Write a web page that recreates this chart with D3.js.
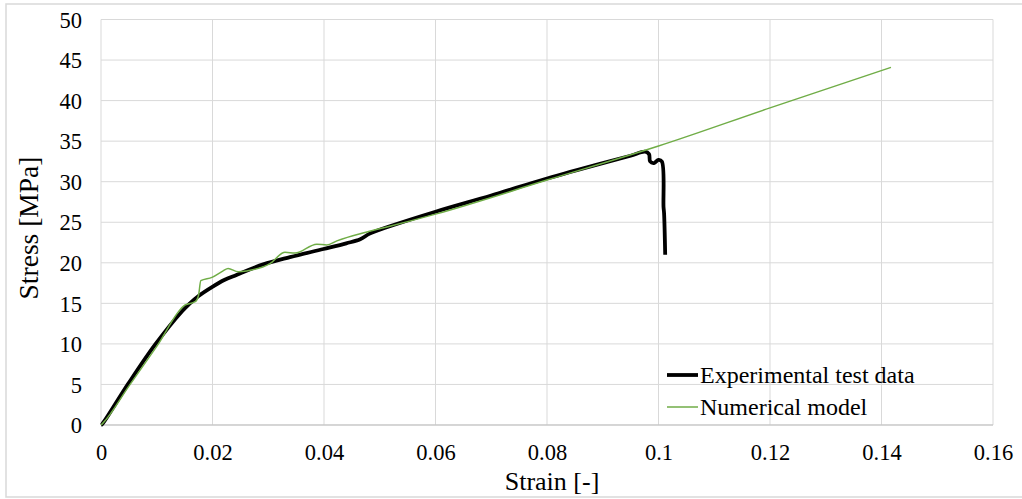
<!DOCTYPE html>
<html>
<head>
<meta charset="utf-8">
<script src="https://cdn.jsdelivr.net/npm/d3@7"></script>
<style>
  html, body { margin: 0; padding: 0; background: #fff; }
  svg { display: block; }
  svg text { font-family: "Liberation Serif", "Times New Roman", Times, "DejaVu Serif", serif; }
</style>
</head>
<body>
<div id="chart"></div>
<script>
// Experimental test data: strain [-], stress [MPa]
var expStrain = [0, 0.0002, 0.0049, 0.0097, 0.0145, 0.0158, 0.0175, 0.0199, 0.0222, 0.0243,
  0.0291, 0.0339, 0.0399, 0.0440, 0.0465, 0.0482, 0.0518, 0.060, 0.070, 0.080, 0.090,
  0.095, 0.0976, 0.0983, 0.0985, 0.0992, 0.1000, 0.1006, 0.1009, 0.1010, 0.1012];
var expStress = [0, 0.1, 5.1, 9.9, 14.0, 14.9, 15.9, 17.0, 17.9, 18.5,
  19.8, 20.7, 21.7, 22.4, 22.9, 23.6, 24.5, 26.3, 28.3, 30.4, 32.3,
  33.2, 33.7, 33.4, 32.5, 32.3, 32.7, 32.5, 26.9, 26.1, 21.0];

// Numerical model: strain [-], stress [MPa]
var numStrain = [0, 0.0003, 0.005, 0.010, 0.0151, 0.0169, 0.0175, 0.0179, 0.0199, 0.0219,
  0.0228, 0.0246, 0.0261, 0.0303, 0.0330, 0.0348, 0.0387, 0.0405, 0.0423, 0.0477, 0.0518,
  0.060, 0.080, 0.100, 0.120, 0.1417];
var numStress = [0, 0.2, 4.8, 9.7, 14.8, 15.2, 16.0, 17.8, 18.2, 19.0,
  19.3, 18.9, 19.0, 19.9, 21.3, 21.2, 22.3, 22.2, 22.7, 23.8, 24.5,
  26.0, 30.2, 34.4, 39.1, 44.1];

var xTicks = [0, 0.02, 0.04, 0.06, 0.08, 0.1, 0.12, 0.14, 0.16];
var yTicks = [0, 5, 10, 15, 20, 25, 30, 35, 40, 45, 50];

var W = 1022, H = 499;
var margin = { top: 19.5, right: 29, bottom: 74, left: 101 };
var FONT = '"Liberation Serif", "Times New Roman", Times, "DejaVu Serif", serif';

var svg = d3.select('#chart').append('svg')
  .attr('width', W)
  .attr('height', H);

// outer chart frame
svg.append('rect')
  .attr('x', 6).attr('y', 4)
  .attr('width', W + 10).attr('height', 493)
  .attr('fill', 'none')
  .attr('stroke', '#d9d9d9')
  .attr('stroke-width', 1.5);

var x = d3.scaleLinear().domain([0, 0.16]).range([margin.left, W - margin.right]);
var y = d3.scaleLinear().domain([0, 50]).range([H - margin.bottom, margin.top]);

// gridlines
svg.append('g')
  .selectAll('line')
  .data(yTicks)
  .join('line')
  .attr('x1', x(0)).attr('x2', x(0.16))
  .attr('y1', function (d) { return y(d); })
  .attr('y2', function (d) { return y(d); })
  .attr('stroke', '#d9d9d9')
  .attr('stroke-width', 1);

svg.append('g')
  .selectAll('line')
  .data(xTicks)
  .join('line')
  .attr('y1', y(0)).attr('y2', y(50))
  .attr('x1', function (d) { return x(d); })
  .attr('x2', function (d) { return x(d); })
  .attr('stroke', '#d9d9d9')
  .attr('stroke-width', 1);

// axis base line
svg.append('line')
  .attr('x1', x(0)).attr('x2', x(0.16))
  .attr('y1', y(0)).attr('y2', y(0))
  .attr('stroke', '#bfbfbf')
  .attr('stroke-width', 1);

// tick labels
var xAxis = d3.axisBottom(x).tickValues(xTicks).tickSize(0).tickPadding(0)
  .tickFormat(function (d) { return d === 0 ? '0' : String(+d.toFixed(2)); });
var gx = svg.append('g')
  .attr('transform', 'translate(0,' + y(0) + ')')
  .call(xAxis)
  .attr('font-family', FONT)
  .attr('font-size', 22.5);
gx.select('.domain').remove();
gx.selectAll('text')
  .attr('dy', null)
  .attr('y', 35)
  .attr('fill', '#000');

var yAxis = d3.axisLeft(y).tickValues(yTicks).tickSize(0).tickPadding(0);
var gy = svg.append('g')
  .attr('transform', 'translate(' + (x(0) - 19) + ',0)')
  .call(yAxis)
  .attr('font-family', FONT)
  .attr('font-size', 22.5);
gy.select('.domain').remove();
gy.selectAll('text')
  .attr('dy', '0.34em')
  .attr('fill', '#000');

// axis titles
svg.append('text')
  .attr('x', 552)
  .attr('y', 490)
  .attr('text-anchor', 'middle')
  .attr('font-size', '26px')
  .attr('fill', '#000')
  .text('Strain [-]');

svg.append('text')
  .attr('transform', 'translate(38,228) rotate(-90)')
  .attr('text-anchor', 'middle')
  .attr('font-size', '27.5px')
  .attr('fill', '#000')
  .text('Stress [MPa]');

// series
var expData = expStrain.map(function (s, i) { return [s, expStress[i]]; });
var numData = numStrain.map(function (s, i) { return [s, numStress[i]]; });

svg.append('path')
  .datum(expData)
  .attr('d', d3.line()
    .x(function (d) { return x(d[0]); })
    .y(function (d) { return y(d[1]); })
    .curve(d3.curveCatmullRom.alpha(0.5)))
  .attr('fill', 'none')
  .attr('stroke', '#000')
  .attr('stroke-width', 3.8)
  .attr('stroke-linejoin', 'round');

svg.append('path')
  .datum(numData)
  .attr('d', d3.line()
    .x(function (d) { return x(d[0]); })
    .y(function (d) { return y(d[1]); })
    .curve(d3.curveMonotoneX))
  .attr('fill', 'none')
  .attr('stroke', '#70ad47')
  .attr('stroke-width', 1.5);

// legend
var legend = svg.append('g');
var items = [
  { label: 'Experimental test data', color: '#000', width: 3.8, y: 375 },
  { label: 'Numerical model', color: '#70ad47', width: 1.5, y: 407 }
];
items.forEach(function (it) {
  legend.append('line')
    .attr('x1', 667).attr('x2', 698)
    .attr('y1', it.y).attr('y2', it.y)
    .attr('stroke', it.color)
    .attr('stroke-width', it.width);
  legend.append('text')
    .attr('x', 700)
    .attr('y', it.y + 8)
    .attr('font-size', '24px')
    .attr('fill', '#000')
    .text(it.label);
});
</script>
</body>
</html>
